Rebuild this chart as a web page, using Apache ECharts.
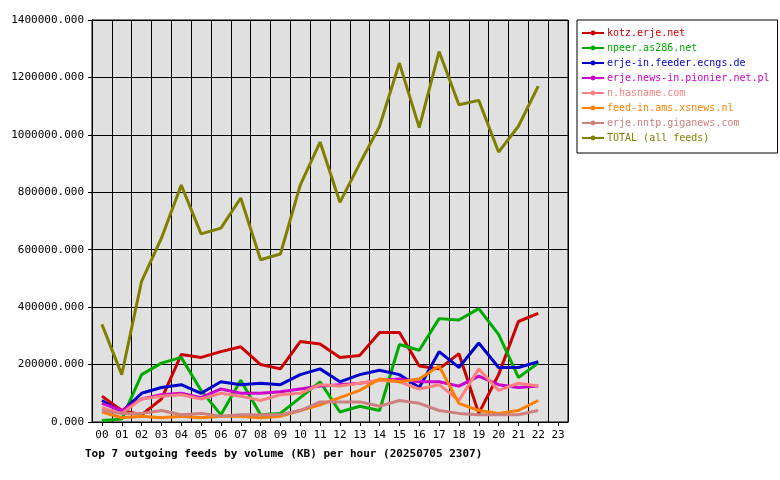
<!DOCTYPE html><html><head><meta charset="utf-8">
<script src="https://cdn.jsdelivr.net/npm/echarts@6/dist/echarts.min.js"></script>
<style>html,body{margin:0;background:#fff}#c{width:780px;height:480px}</style></head><body><div id="c"></div>
<script>
const hours = ['00','01','02','03','04','05','06','07','08','09','10','11','12','13','14','15','16','17','18','19','20','21','22','23'];
const seriesNames = ['kotz.erje.net','npeer.as286.net','erje-in.feeder.ecngs.de','erje.news-in.pionier.net.pl','n.hasname.com','feed-in.ams.xsnews.nl','erje.nntp.giganews.com','TOTAL (all feeds)'];
const kotz = [90000,40000,25000,80000,235000,225000,245000,262000,200000,185000,280000,272000,225000,232000,312000,312000,195000,185000,238000,30000,165000,350000,378000];
const npeer = [5000,10000,165000,205000,225000,110000,25000,145000,25000,30000,85000,140000,35000,55000,40000,270000,250000,360000,355000,395000,305000,155000,205000];
const ecngs = [75000,35000,100000,120000,130000,100000,140000,130000,135000,130000,165000,185000,140000,165000,180000,165000,120000,245000,190000,275000,190000,190000,210000];
const pionier = [65000,40000,80000,95000,100000,85000,115000,100000,100000,105000,115000,125000,130000,135000,145000,150000,140000,140000,125000,160000,130000,120000,125000];
const hasname = [50000,30000,80000,90000,95000,80000,100000,90000,75000,95000,100000,130000,125000,135000,145000,140000,115000,130000,75000,185000,110000,135000,125000];
const xsnews = [35000,15000,20000,15000,20000,15000,20000,20000,15000,20000,40000,60000,85000,110000,150000,140000,150000,195000,65000,40000,30000,40000,75000];
const giganews = [40000,30000,30000,40000,25000,30000,20000,25000,25000,25000,40000,70000,70000,70000,55000,75000,65000,40000,30000,25000,25000,25000,40000];
const total = [340000,165000,490000,640000,825000,655000,675000,780000,565000,585000,825000,975000,765000,900000,1030000,1250000,1025000,1290000,1105000,1120000,940000,1030000,1170000];
const colors = ['#cc0000','#00aa00','#0000cc','#cc00cc','#ff8080','#ff8000','#cc8080','#808000'];
const all = [kotz,npeer,ecngs,pionier,hasname,xsnews,giganews,total];
const mono = 'DejaVu Sans Mono';
const chart = echarts.init(document.getElementById('c'));
chart.setOption({
  backgroundColor:'#fff', animation:false, color:colors,
  title:{text:'Top 7 outgoing feeds by volume (KB) per hour (20250705 2307)',left:80,top:444,textStyle:{fontFamily:mono,fontSize:11,fontWeight:'bold',color:'#000'}},
  legend:{orient:'vertical',left:577,top:20,itemWidth:22,itemHeight:6,itemGap:5,padding:[8,8,10,4],
    backgroundColor:'#fff',borderColor:'#000',borderWidth:1,
    data:seriesNames.map((n,i)=>({name:n,textStyle:{color:colors[i]}})),
    textStyle:{fontFamily:mono,fontSize:10,padding:[0,0,0,-2]}},
  grid:{left:92,right:212,top:20,bottom:58,show:true,backgroundColor:'#e0e0e0',borderColor:'#000',borderWidth:1},
  xAxis:{type:'category',data:hours,boundaryGap:true,
    axisLine:{lineStyle:{color:'#000'}},axisTick:{show:true,alignWithLabel:true,length:4,lineStyle:{color:'#000'}},
    axisLabel:{interval:0,fontFamily:mono,fontSize:11,color:'#000'},
    splitLine:{show:true,interval:0,lineStyle:{color:'#000'}}},
  yAxis:{type:'value',min:0,max:1400000,interval:200000,
    axisLine:{show:true,lineStyle:{color:'#000'}},axisTick:{show:true,length:4,lineStyle:{color:'#000'}},
    axisLabel:{fontFamily:mono,fontSize:11,color:'#000',formatter:v=>v.toFixed(3)},
    splitLine:{lineStyle:{color:'#000'}}},
  series:seriesNames.map((n,i)=>({name:n,type:'line',data:all[i],symbol:'none',lineStyle:{width:3,color:colors[i]},itemStyle:{color:colors[i]},z:i===7?3:2}))
});
</script></body></html>
